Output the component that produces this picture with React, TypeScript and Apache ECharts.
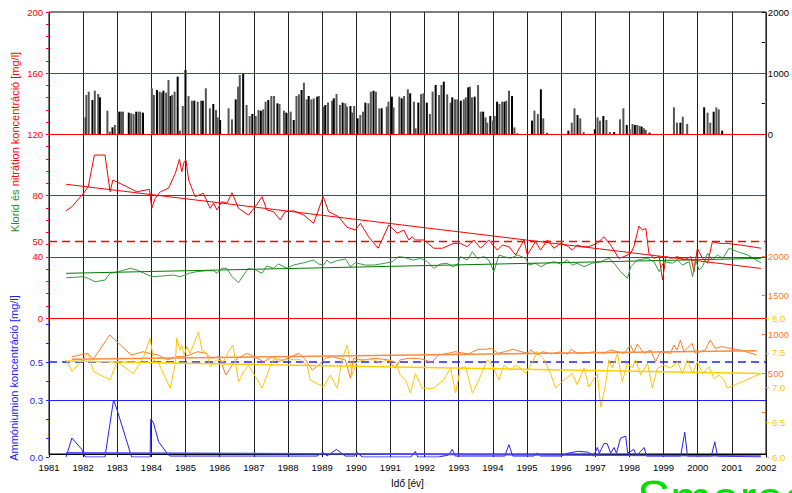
import React, { useEffect, useRef } from 'react';
import * as echarts from 'echarts';

const FONT = 'Liberation Sans, Arial, Helvetica, sans-serif';

// x range (years)
const yearMin = 1981;
const yearMax = 2002;

// Precipitation-like bars (top panel, right axis 0-2000)
const bars: [number, number][] = [
  [1982.08, 273], [1982.10, 639], [1982.17, 694], [1982.28, 557], [1982.35, 710], [1982.45, 656], [1982.50, 601],
  [1982.72, 382], [1982.79, 38], [1982.87, 109], [1982.94, 148],
  [1983.03, 366], [1983.08, 366], [1983.13, 366], [1983.18, 366], [1983.35, 350], [1983.42, 339], [1983.49, 328],
  [1983.57, 366], [1983.64, 366], [1983.69, 366], [1983.77, 350],
  [1984.03, 749], [1984.09, 639], [1984.18, 721], [1984.26, 694], [1984.32, 678], [1984.37, 710], [1984.45, 678],
  [1984.52, 885], [1984.58, 623], [1984.63, 639], [1984.70, 694], [1984.79, 940], [1984.86, 55], [1984.94, 459],
  [1985.02, 1049], [1985.11, 623], [1985.21, 546], [1985.28, 546], [1985.38, 530], [1985.48, 546], [1985.53, 546],
  [1985.62, 749], [1985.74, 421], [1985.84, 492], [1985.92, 393], [1985.97, 273], [1986.04, 230],
  [1986.29, 421], [1986.39, 240], [1986.50, 568], [1986.57, 776], [1986.62, 967], [1986.72, 994], [1986.82, 475],
  [1986.91, 295], [1986.99, 328], [1987.09, 295], [1987.17, 393], [1987.24, 382], [1987.31, 404], [1987.38, 530],
  [1987.46, 557], [1987.55, 623], [1987.63, 623], [1987.73, 503], [1987.79, 492], [1987.92, 382], [1987.99, 350],
  [1988.05, 339], [1988.12, 366], [1988.21, 230], [1988.29, 623], [1988.36, 650], [1988.44, 721], [1988.51, 841],
  [1988.59, 568], [1988.65, 623], [1988.73, 568], [1988.80, 585], [1988.90, 612], [1988.95, 623],
  [1989.09, 448], [1989.14, 475], [1989.22, 514], [1989.34, 546], [1989.39, 585], [1989.47, 656], [1989.57, 475],
  [1989.65, 514], [1989.73, 503], [1989.78, 448], [1989.88, 459], [1989.93, 350], [1989.99, 459],
  [1990.09, 257], [1990.17, 311], [1990.25, 366], [1990.32, 514], [1990.41, 503], [1990.48, 694], [1990.56, 710],
  [1990.63, 694], [1990.73, 421], [1990.80, 421], [1990.95, 448], [1991.00, 530], [1991.10, 612], [1991.15, 437],
  [1991.32, 612], [1991.39, 585], [1991.46, 623], [1991.57, 732], [1991.64, 667], [1991.75, 530], [1991.80, 93],
  [1991.88, 514], [1991.96, 656], [1992.03, 667], [1992.13, 514], [1992.22, 328], [1992.30, 694], [1992.39, 803],
  [1992.49, 639], [1992.56, 803], [1992.63, 858], [1992.73, 650], [1992.83, 514], [1992.88, 601], [1992.96, 568],
  [1993.03, 568], [1993.13, 546], [1993.22, 568], [1993.28, 601], [1993.35, 765], [1993.40, 776], [1993.46, 601],
  [1993.54, 612], [1993.64, 803], [1993.72, 366], [1993.79, 366], [1993.86, 273], [1993.91, 186], [1994.00, 295],
  [1994.08, 219], [1994.13, 295], [1994.20, 530], [1994.27, 492], [1994.35, 530], [1994.42, 530], [1994.47, 546],
  [1994.55, 710], [1994.64, 623], [1994.71, 109], [1994.80, 15],
  [1995.23, 219], [1995.30, 382], [1995.40, 328], [1995.49, 732], [1995.56, 257], [1995.67, 22],
  [1996.30, 55], [1996.40, 186], [1996.48, 421], [1996.57, 311], [1996.65, 257], [1996.75, 33],
  [1997.08, 77], [1997.16, 273], [1997.23, 219], [1997.33, 295], [1997.42, 230], [1997.52, 33], [1997.65, 33],
  [1997.82, 240], [1997.92, 421], [1998.02, 148], [1998.11, 77], [1998.19, 164], [1998.26, 148], [1998.33, 148],
  [1998.40, 131], [1998.46, 120], [1998.53, 93], [1998.58, 66], [1998.69, 22],
  [1999.41, 437], [1999.50, 186], [1999.60, 186], [1999.67, 284], [1999.80, 164],
  [2000.30, 437], [2000.40, 350], [2000.48, 186], [2000.58, 366], [2000.66, 437], [2000.73, 404], [2000.83, 55],
];

// Nitrate (mg/l)
const nitrate: [number, number][] = [
  [1981.50, 70.1], [1981.67, 72.7], [1982.01, 81.5], [1982.15, 85.8], [1982.33, 106.5], [1982.64, 106.5],
  [1982.79, 82.5], [1982.87, 90.2], [1983.28, 85.8], [1983.57, 82.5], [1983.94, 84.1], [1984.01, 71.7],
  [1984.11, 78.2], [1984.26, 82.5], [1984.50, 84.8], [1984.70, 94.6], [1984.82, 103.7], [1984.89, 95.6],
  [1984.96, 102.2], [1985.01, 103.3], [1985.09, 90.2], [1985.28, 79.3], [1985.52, 81.5], [1985.72, 71.7],
  [1985.82, 75.0], [1985.92, 70.6], [1986.06, 76.0], [1986.21, 75.0], [1986.36, 81.9], [1986.55, 71.7],
  [1986.84, 67.3], [1987.04, 72.7], [1987.24, 79.3], [1987.38, 70.6], [1987.58, 69.5], [1987.77, 64.1],
  [1987.92, 69.5], [1988.16, 70.1], [1988.46, 67.3], [1988.75, 61.9], [1989.03, 79.3], [1989.19, 69.5],
  [1989.48, 66.2], [1989.73, 59.3], [1989.97, 57.5], [1990.12, 61.9], [1990.36, 53.1], [1990.64, 45.6],
  [1990.95, 60.8], [1991.20, 55.4], [1991.39, 57.5], [1991.54, 51.0], [1991.64, 53.1], [1991.73, 51.0],
  [1991.98, 51.0], [1992.27, 45.6], [1992.52, 45.6], [1992.86, 48.8], [1993.05, 48.8], [1993.25, 46.6],
  [1993.44, 51.0], [1993.64, 45.6], [1993.88, 51.0], [1994.13, 44.4], [1994.28, 47.7], [1994.47, 46.6],
  [1994.67, 41.2], [1994.91, 51.0], [1995.01, 41.2], [1995.25, 49.9], [1995.40, 44.4], [1995.60, 51.0],
  [1995.79, 45.6], [1995.99, 48.8], [1996.18, 47.1], [1996.33, 44.4], [1996.47, 47.7], [1996.62, 46.6],
  [1996.81, 46.6], [1997.06, 48.8], [1997.25, 53.1], [1997.45, 47.7], [1997.69, 39.0], [1997.84, 40.1],
  [1998.04, 42.3], [1998.13, 46.6], [1998.28, 60.1], [1998.38, 57.5], [1998.48, 58.6], [1998.57, 42.3],
  [1998.72, 39.0], [1998.87, 40.1], [1998.97, 24.8], [1999.07, 40.1], [1999.21, 39.0], [1999.41, 40.1],
  [1999.60, 37.9], [1999.80, 40.1], [1999.89, 30.3], [1999.99, 45.6], [2000.14, 39.0], [2000.29, 35.8],
  [2000.43, 49.9], [2000.63, 48.8], [2000.82, 48.8], [2001.26, 47.7], [2001.85, 45.6],
];
const nitrateTrend: [number, number][] = [[1981.5, 87.4], [2001.85, 32.4]];

// Chloride (mg/l)
const chloride: [number, number][] = [
  [1981.50, 26.3], [1982.01, 27.0], [1982.15, 25.9], [1982.35, 23.7], [1982.64, 24.8], [1982.79, 29.2],
  [1983.03, 30.3], [1983.38, 32.5], [1983.57, 31.4], [1984.01, 27.0], [1984.35, 27.5], [1984.65, 28.1],
  [1984.84, 27.0], [1985.09, 29.2], [1985.33, 30.3], [1985.62, 30.9], [1985.82, 30.9], [1985.92, 29.2],
  [1986.06, 32.5], [1986.21, 32.5], [1986.36, 27.0], [1986.55, 23.1], [1986.70, 28.1], [1986.84, 32.5],
  [1987.04, 31.4], [1987.24, 29.2], [1987.38, 34.0], [1987.58, 32.5], [1987.72, 35.3], [1987.97, 32.5],
  [1988.16, 34.6], [1988.46, 36.1], [1988.75, 37.9], [1988.90, 35.3], [1989.04, 34.6], [1989.14, 37.9],
  [1989.24, 35.8], [1989.44, 37.5], [1989.68, 38.6], [1989.83, 33.5], [1989.97, 36.1], [1990.27, 34.6],
  [1990.51, 34.6], [1990.85, 35.8], [1991.05, 36.8], [1991.24, 40.1], [1991.39, 39.7], [1991.49, 39.0],
  [1991.68, 37.9], [1991.88, 39.0], [1992.08, 36.8], [1992.27, 32.5], [1992.47, 35.3], [1992.66, 35.8],
  [1992.81, 33.5], [1992.96, 34.6], [1993.05, 40.1], [1993.25, 37.9], [1993.40, 43.3], [1993.54, 39.0],
  [1993.74, 40.1], [1993.88, 37.9], [1994.03, 30.3], [1994.18, 41.2], [1994.32, 40.1], [1994.52, 39.0],
  [1994.72, 41.2], [1994.96, 39.0], [1995.06, 34.6], [1995.25, 35.8], [1995.40, 33.5], [1995.60, 35.8],
  [1995.79, 36.8], [1995.99, 35.3], [1996.18, 37.9], [1996.33, 34.6], [1996.47, 35.8], [1996.67, 33.5],
  [1996.91, 35.8], [1997.16, 36.8], [1997.40, 39.0], [1997.55, 35.8], [1997.74, 30.3], [1997.94, 25.9],
  [1998.04, 33.5], [1998.23, 37.9], [1998.53, 39.0], [1998.72, 36.8], [1998.87, 30.3], [1999.01, 36.8],
  [1999.26, 35.8], [1999.41, 37.9], [1999.55, 34.6], [1999.75, 36.8], [1999.85, 27.0], [1999.94, 37.9],
  [2000.04, 31.4], [2000.14, 33.5], [2000.29, 42.3], [2000.43, 37.9], [2000.58, 41.2], [2000.73, 39.0],
  [2000.92, 45.6], [2001.17, 43.3], [2001.46, 41.2], [2001.85, 36.1],
];
const chlorideTrend: [number, number][] = [[1981.5, 29.2], [2001.85, 39.0]];

// Conductivity (right axis, 500-2000)
const conductivity: [number, number][] = [
  [1981.67, 709], [1981.91, 731], [1982.15, 752], [1982.30, 675], [1982.79, 987], [1983.42, 731], [1983.77, 773],
  [1983.96, 752], [1984.21, 731], [1984.50, 667], [1984.74, 709], [1984.94, 709], [1985.13, 731], [1985.38, 773],
  [1985.62, 752], [1985.77, 688], [1986.01, 709], [1986.21, 474], [1986.40, 603], [1986.55, 688], [1986.84, 752],
  [1987.04, 709], [1987.33, 645], [1987.58, 709], [1987.77, 645], [1988.02, 688], [1988.36, 752], [1988.56, 667],
  [1988.75, 538], [1988.95, 603], [1989.14, 688], [1989.34, 709], [1989.73, 667], [1989.88, 432], [1989.97, 688],
  [1990.22, 667], [1990.61, 688], [1991.00, 667], [1991.20, 560], [1991.34, 667], [1991.59, 688], [1991.88, 688],
  [1992.08, 667], [1992.27, 632], [1992.47, 731], [1992.76, 752], [1992.96, 773], [1993.15, 760], [1993.35, 744],
  [1993.64, 804], [1993.84, 804], [1994.03, 816], [1994.23, 752], [1994.42, 773], [1994.67, 804], [1994.91, 773],
  [1995.11, 752], [1995.20, 795], [1995.40, 731], [1995.55, 773], [1995.79, 744], [1996.08, 773], [1996.28, 740],
  [1996.38, 804], [1996.57, 752], [1996.87, 760], [1997.06, 773], [1997.35, 752], [1997.55, 795], [1997.74, 773],
  [1997.94, 752], [1998.13, 859], [1998.23, 760], [1998.33, 872], [1998.53, 752], [1998.72, 795], [1998.87, 645],
  [1999.01, 773], [1999.31, 752], [1999.41, 859], [1999.50, 795], [1999.60, 923], [1999.70, 773], [1999.80, 816],
  [1999.94, 881], [2000.04, 752], [2000.19, 773], [2000.33, 795], [2000.48, 923], [2000.63, 816], [2000.82, 838],
  [2001.07, 816], [2001.36, 795], [2001.85, 731],
];
const conductivityTrend: [number, number][] = [[1981.67, 676], [2001.85, 786]];

// pH (right axis 6.0-8.0)
const ph: [number, number][] = [
  [1981.50, 7.40], [1981.67, 7.23], [1982.15, 7.49], [1982.30, 7.23], [1982.79, 7.11], [1982.99, 7.37],
  [1983.47, 7.20], [1983.77, 7.44], [1983.96, 7.71], [1984.06, 7.40], [1984.21, 7.35], [1984.55, 6.99],
  [1984.70, 7.35], [1984.74, 7.71], [1984.84, 7.54], [1984.89, 7.61], [1984.96, 7.47], [1985.04, 7.59],
  [1985.13, 7.49], [1985.38, 7.80], [1985.48, 7.54], [1985.62, 7.49], [1985.72, 7.30], [1985.92, 7.40],
  [1986.11, 7.37], [1986.26, 7.52], [1986.39, 7.61], [1986.45, 7.40], [1986.55, 7.08], [1986.70, 7.23],
  [1986.84, 7.32], [1987.04, 7.16], [1987.24, 6.99], [1987.48, 7.30], [1987.58, 7.42], [1987.77, 7.40],
  [1988.07, 7.40], [1988.36, 7.40], [1988.56, 7.32], [1988.65, 7.11], [1989.04, 7.01], [1989.24, 7.18],
  [1989.44, 6.99], [1989.58, 7.40], [1989.73, 7.61], [1989.83, 7.35], [1989.88, 7.18], [1990.02, 7.37],
  [1990.27, 7.40], [1990.51, 7.40], [1990.71, 7.35], [1990.90, 7.40], [1991.15, 7.37], [1991.29, 7.18],
  [1991.44, 7.11], [1991.59, 6.92], [1991.73, 7.20], [1991.93, 6.99], [1992.27, 6.99], [1992.56, 7.11],
  [1992.76, 7.28], [1992.91, 6.92], [1993.05, 7.28], [1993.20, 7.30], [1993.40, 6.92], [1993.59, 7.11],
  [1993.84, 7.40], [1993.98, 7.32], [1994.18, 7.11], [1994.32, 7.32], [1994.52, 7.25], [1994.67, 7.32],
  [1994.81, 7.28], [1994.96, 7.20], [1995.16, 7.37], [1995.30, 7.52], [1995.50, 7.40], [1995.69, 7.20],
  [1995.84, 6.99], [1996.08, 7.11], [1996.33, 7.20], [1996.47, 7.04], [1996.67, 7.28], [1996.81, 7.01],
  [1997.06, 7.20], [1997.16, 6.72], [1997.30, 7.04], [1997.40, 7.40], [1997.50, 7.28], [1997.65, 7.49],
  [1997.79, 7.08], [1997.94, 7.35], [1998.09, 7.28], [1998.18, 7.40], [1998.33, 7.18], [1998.53, 7.35],
  [1998.67, 6.99], [1998.82, 7.28], [1999.01, 7.32], [1999.21, 7.28], [1999.41, 7.37], [1999.55, 7.20],
  [1999.70, 7.40], [1999.85, 7.20], [1999.99, 7.37], [2000.14, 7.20], [2000.33, 7.30], [2000.48, 7.13],
  [2000.63, 7.18], [2000.77, 7.11], [2000.87, 6.99], [2001.85, 7.20],
];
const phTrend: [number, number][] = [[1981.5, 7.38], [2001.85, 7.20]];

// Ammonium (mg/l)
const ammonium: [number, number][] = [
  [1981.50, 0.0], [1981.67, 0.10], [1981.96, 0.04], [1982.06, 0.0], [1982.64, 0.0], [1982.89, 0.30],
  [1982.99, 0.25], [1983.42, 0.0], [1983.96, 0.0], [1983.98, 0.20], [1984.06, 0.18], [1984.21, 0.08],
  [1984.50, 0.01], [1984.55, 0.005], [1988.85, 0.005], [1989.03, 0.025], [1989.14, 0.005], [1989.42, 0.04],
  [1989.68, 0.005], [1989.95, 0.005], [1990.02, 0.025], [1990.17, 0.0], [1991.60, 0.0], [1991.73, 0.03],
  [1991.80, 0.0], [1992.40, 0.0], [1992.70, 0.01], [1992.81, 0.04], [1992.90, 0.005], [1994.35, 0.005],
  [1994.47, 0.065], [1994.58, 0.005], [1995.20, 0.005], [1995.30, 0.02], [1995.40, 0.005], [1996.00, 0.005],
  [1996.20, 0.02], [1996.50, 0.03], [1996.80, 0.025], [1996.95, 0.005], [1997.06, 0.05], [1997.12, 0.02],
  [1997.25, 0.07], [1997.35, 0.07], [1997.45, 0.02], [1997.55, 0.05], [1997.62, 0.02], [1997.74, 0.10],
  [1997.89, 0.11], [1997.95, 0.02], [1998.13, 0.04], [1998.20, 0.005], [1998.43, 0.05], [1998.50, 0.005],
  [1999.50, 0.005], [1999.62, 0.13], [1999.70, 0.005], [2000.40, 0.005], [2000.50, 0.08], [2000.58, 0.005],
  [2001.85, 0.0],
];
const ammoniumTrend: [number, number][] = [[1981.5, 0.023], [2001.85, 0.005]];

// Tick labels / reference lines
const mgLabels = [0, 40, 80, 120, 160, 200];
const mgExtraLabel = 50;
const barLabels = [0, 1000, 2000];
const ammoniumLabels = ['0.0', '0.3', '0.5'];
const redSolidLines = [0, 40, 80, 120, 160];
const redDashedLevel = 50;
const blueSolidLines = [0.3];
const blueDashedLevel = 0.5;

const RED = '#ff0000';
const GREEN = '#1f8f1f';
const ORANGE = '#ff7a2a';
const YELLOW = '#ffc400';
const BLUE = '#2020ff';

export default function App() {
  const ref = useRef<HTMLDivElement>(null);

  useEffect(() => {
    if (!ref.current) return;
    const chart = echarts.init(ref.current, undefined, { renderer: 'svg' });

    const L = 49;
    const W = 717;
    const grids = [
      { left: L, width: W, top: 12, height: 445, show: true, borderColor: '#000', borderWidth: 1, backgroundColor: 'transparent' },
      { left: L, width: W, top: 12, height: 306 },
      { left: L, width: W, top: 12, height: 122 },
      { left: L, width: W, top: 318, height: 139 },
      { left: L, width: W, top: 256, height: 156 },
      { left: L, width: W, top: 318, height: 139 },
    ];

    const hiddenX = (i: number) => ({ type: 'value', gridIndex: i, min: yearMin, max: yearMax, interval: 1, show: false });

    const tickStyle = (c: string) => ({ show: true, length: 3, lineStyle: { color: c, width: 1 } });
    const lbl = (c: string) => ({ color: c, fontSize: 9.5, fontFamily: FONT, margin: 6 });

    const refLines = (xi: number, yi: number, values: number[], color: string) => ({
      type: 'line', xAxisIndex: xi, yAxisIndex: yi, data: [], z: 3,
      markLine: {
        silent: true, symbol: ['none', 'none'], label: { show: false }, animation: false,
        lineStyle: { color, width: 1, type: 'solid' },
        data: values.map((v) => ({ yAxis: v })),
      },
    });

    const dashedLevel = (xi: number, yi: number, level: number, color: string) => ({
      type: 'line', xAxisIndex: xi, yAxisIndex: yi, symbol: 'none', z: 3, silent: true,
      data: [[yearMin, level], [yearMax, level]],
      itemStyle: { color },
      lineStyle: { color, width: 1.6, type: [8, 5] },
    });

    const option: any = {
      animation: false,
      backgroundColor: '#fff',
      grid: grids,
      xAxis: [
        {
          type: 'value', gridIndex: 0, min: yearMin, max: yearMax, interval: 1,
          axisLine: { show: true, lineStyle: { color: '#000', width: 1 } },
          axisTick: { show: true, length: 3, lineStyle: { color: '#000' } },
          axisLabel: { color: '#000', fontSize: 9.5, fontFamily: FONT, margin: 8, formatter: (v: number) => String(v) },
          splitLine: { show: true, lineStyle: { color: '#222', width: 1 } },
          name: 'Idő [év]', nameLocation: 'middle', nameGap: 24,
          nameTextStyle: { color: '#000', fontSize: 10, fontFamily: FONT },
        },
        hiddenX(1), hiddenX(2), hiddenX(3), hiddenX(4), hiddenX(5),
      ],
      yAxis: [
        { type: 'value', gridIndex: 0, min: 0, max: 1, show: false },
        {
          type: 'value', gridIndex: 1, position: 'left', min: 0, max: 200, interval: 8,
          axisLine: { show: false }, axisTick: tickStyle(RED), splitLine: { show: false },
          axisLabel: { ...lbl(RED), formatter: (v: number) => (mgLabels.includes(Math.round(v)) ? String(Math.round(v)) : '') },
        },
        {
          type: 'value', gridIndex: 1, position: 'left', min: 0, max: 200, interval: 10,
          axisLine: { show: false }, axisTick: { show: false }, splitLine: { show: false },
          axisLabel: { ...lbl(RED), formatter: (v: number) => (Math.round(v) === mgExtraLabel ? String(mgExtraLabel) : '') },
        },
        {
          type: 'value', gridIndex: 2, position: 'right', min: 0, max: 2000, interval: 500,
          axisLine: { show: false }, axisTick: tickStyle('#000'), splitLine: { show: false },
          axisLabel: { ...lbl('#000'), formatter: (v: number) => (barLabels.includes(v) ? String(v) : '') },
        },
        {
          type: 'value', gridIndex: 3, position: 'left', min: 0, max: 0.7316, interval: 0.1,
          axisLine: { show: false }, axisTick: tickStyle(BLUE), splitLine: { show: false },
          axisLabel: { ...lbl(BLUE), showMaxLabel: false, formatter: (v: number) => { const s = v.toFixed(1); return ammoniumLabels.includes(s) ? s : ''; } },
        },
        {
          type: 'value', gridIndex: 4, position: 'right', min: 0, max: 2000, interval: 500,
          axisLine: { show: false }, axisTick: tickStyle(ORANGE), splitLine: { show: false },
          axisLabel: { ...lbl(ORANGE), formatter: (v: number) => (v > 0 ? String(v) : '') },
        },
        {
          type: 'value', gridIndex: 5, position: 'right', min: 6, max: 8, interval: 0.5,
          axisLine: { show: false }, axisTick: tickStyle(YELLOW), splitLine: { show: false },
          axisLabel: { ...lbl(YELLOW), formatter: (v: number) => v.toFixed(1) },
        },
      ],
      series: [
        {
          type: 'bar', xAxisIndex: 2, yAxisIndex: 3, data: bars, barWidth: 2,
          itemStyle: { color: (p: any) => (p.dataIndex % 3 === 0 ? '#000' : '#555') },
        },
        refLines(1, 1, redSolidLines, RED),
        dashedLevel(1, 1, redDashedLevel, RED),
        refLines(3, 4, blueSolidLines, BLUE),
        dashedLevel(3, 4, blueDashedLevel, BLUE),
        { type: 'line', xAxisIndex: 1, yAxisIndex: 1, data: nitrate, symbol: 'none', lineStyle: { color: RED, width: 1 }, z: 4 },
        { type: 'line', xAxisIndex: 1, yAxisIndex: 1, data: nitrateTrend, symbol: 'none', lineStyle: { color: RED, width: 1 }, z: 4 },
        { type: 'line', xAxisIndex: 1, yAxisIndex: 1, data: chloride, symbol: 'none', lineStyle: { color: '#3a9c3a', width: 1 }, z: 4 },
        { type: 'line', xAxisIndex: 1, yAxisIndex: 1, data: chlorideTrend, symbol: 'none', lineStyle: { color: '#007a00', width: 1 }, z: 4 },
        { type: 'line', xAxisIndex: 4, yAxisIndex: 5, data: conductivity, symbol: 'none', lineStyle: { color: ORANGE, width: 1 }, z: 4 },
        { type: 'line', xAxisIndex: 4, yAxisIndex: 5, data: conductivityTrend, symbol: 'none', lineStyle: { color: '#ff8a40', width: 1.5 }, z: 4 },
        { type: 'line', xAxisIndex: 5, yAxisIndex: 6, data: ph, symbol: 'none', lineStyle: { color: YELLOW, width: 1 }, z: 4 },
        { type: 'line', xAxisIndex: 5, yAxisIndex: 6, data: phTrend, symbol: 'none', lineStyle: { color: '#ffd000', width: 1.5 }, z: 4 },
        { type: 'line', xAxisIndex: 3, yAxisIndex: 4, data: ammonium, symbol: 'none', lineStyle: { color: BLUE, width: 1 }, z: 4 },
        { type: 'line', xAxisIndex: 3, yAxisIndex: 4, data: ammoniumTrend, symbol: 'none', lineStyle: { color: '#4a4aff', width: 1.5 }, z: 4 },
      ],
      graphic: [
        {
          type: 'text', x: 15, y: 142, rotation: Math.PI / 2,
          style: {
            text: '{g|Klorid és} {r|nitrátion koncentráció [mg/l]}',
            font: `11px ${FONT}`, align: 'center', verticalAlign: 'middle',
            rich: { g: { fill: GREEN, fontSize: 11, fontFamily: FONT }, r: { fill: RED, fontSize: 11, fontFamily: FONT } },
          },
        },
        {
          type: 'text', x: 14, y: 378, rotation: Math.PI / 2,
          style: { text: 'Ammóniumion koncentráció [mg/l]', fill: BLUE, font: `11px ${FONT}`, align: 'center', verticalAlign: 'middle' },
        },
        {
          type: 'text', x: 637, y: 474,
          style: { text: 'Smaragd', fill: '#00e000', font: `50px ${FONT}`, align: 'left', verticalAlign: 'top' },
        },
      ],
    };

    chart.setOption(option);
    return () => chart.dispose();
  }, []);

  return <div ref={ref} style={{ position: 'fixed', left: 0, top: 0, width: 792, height: 493 }} />;
}
